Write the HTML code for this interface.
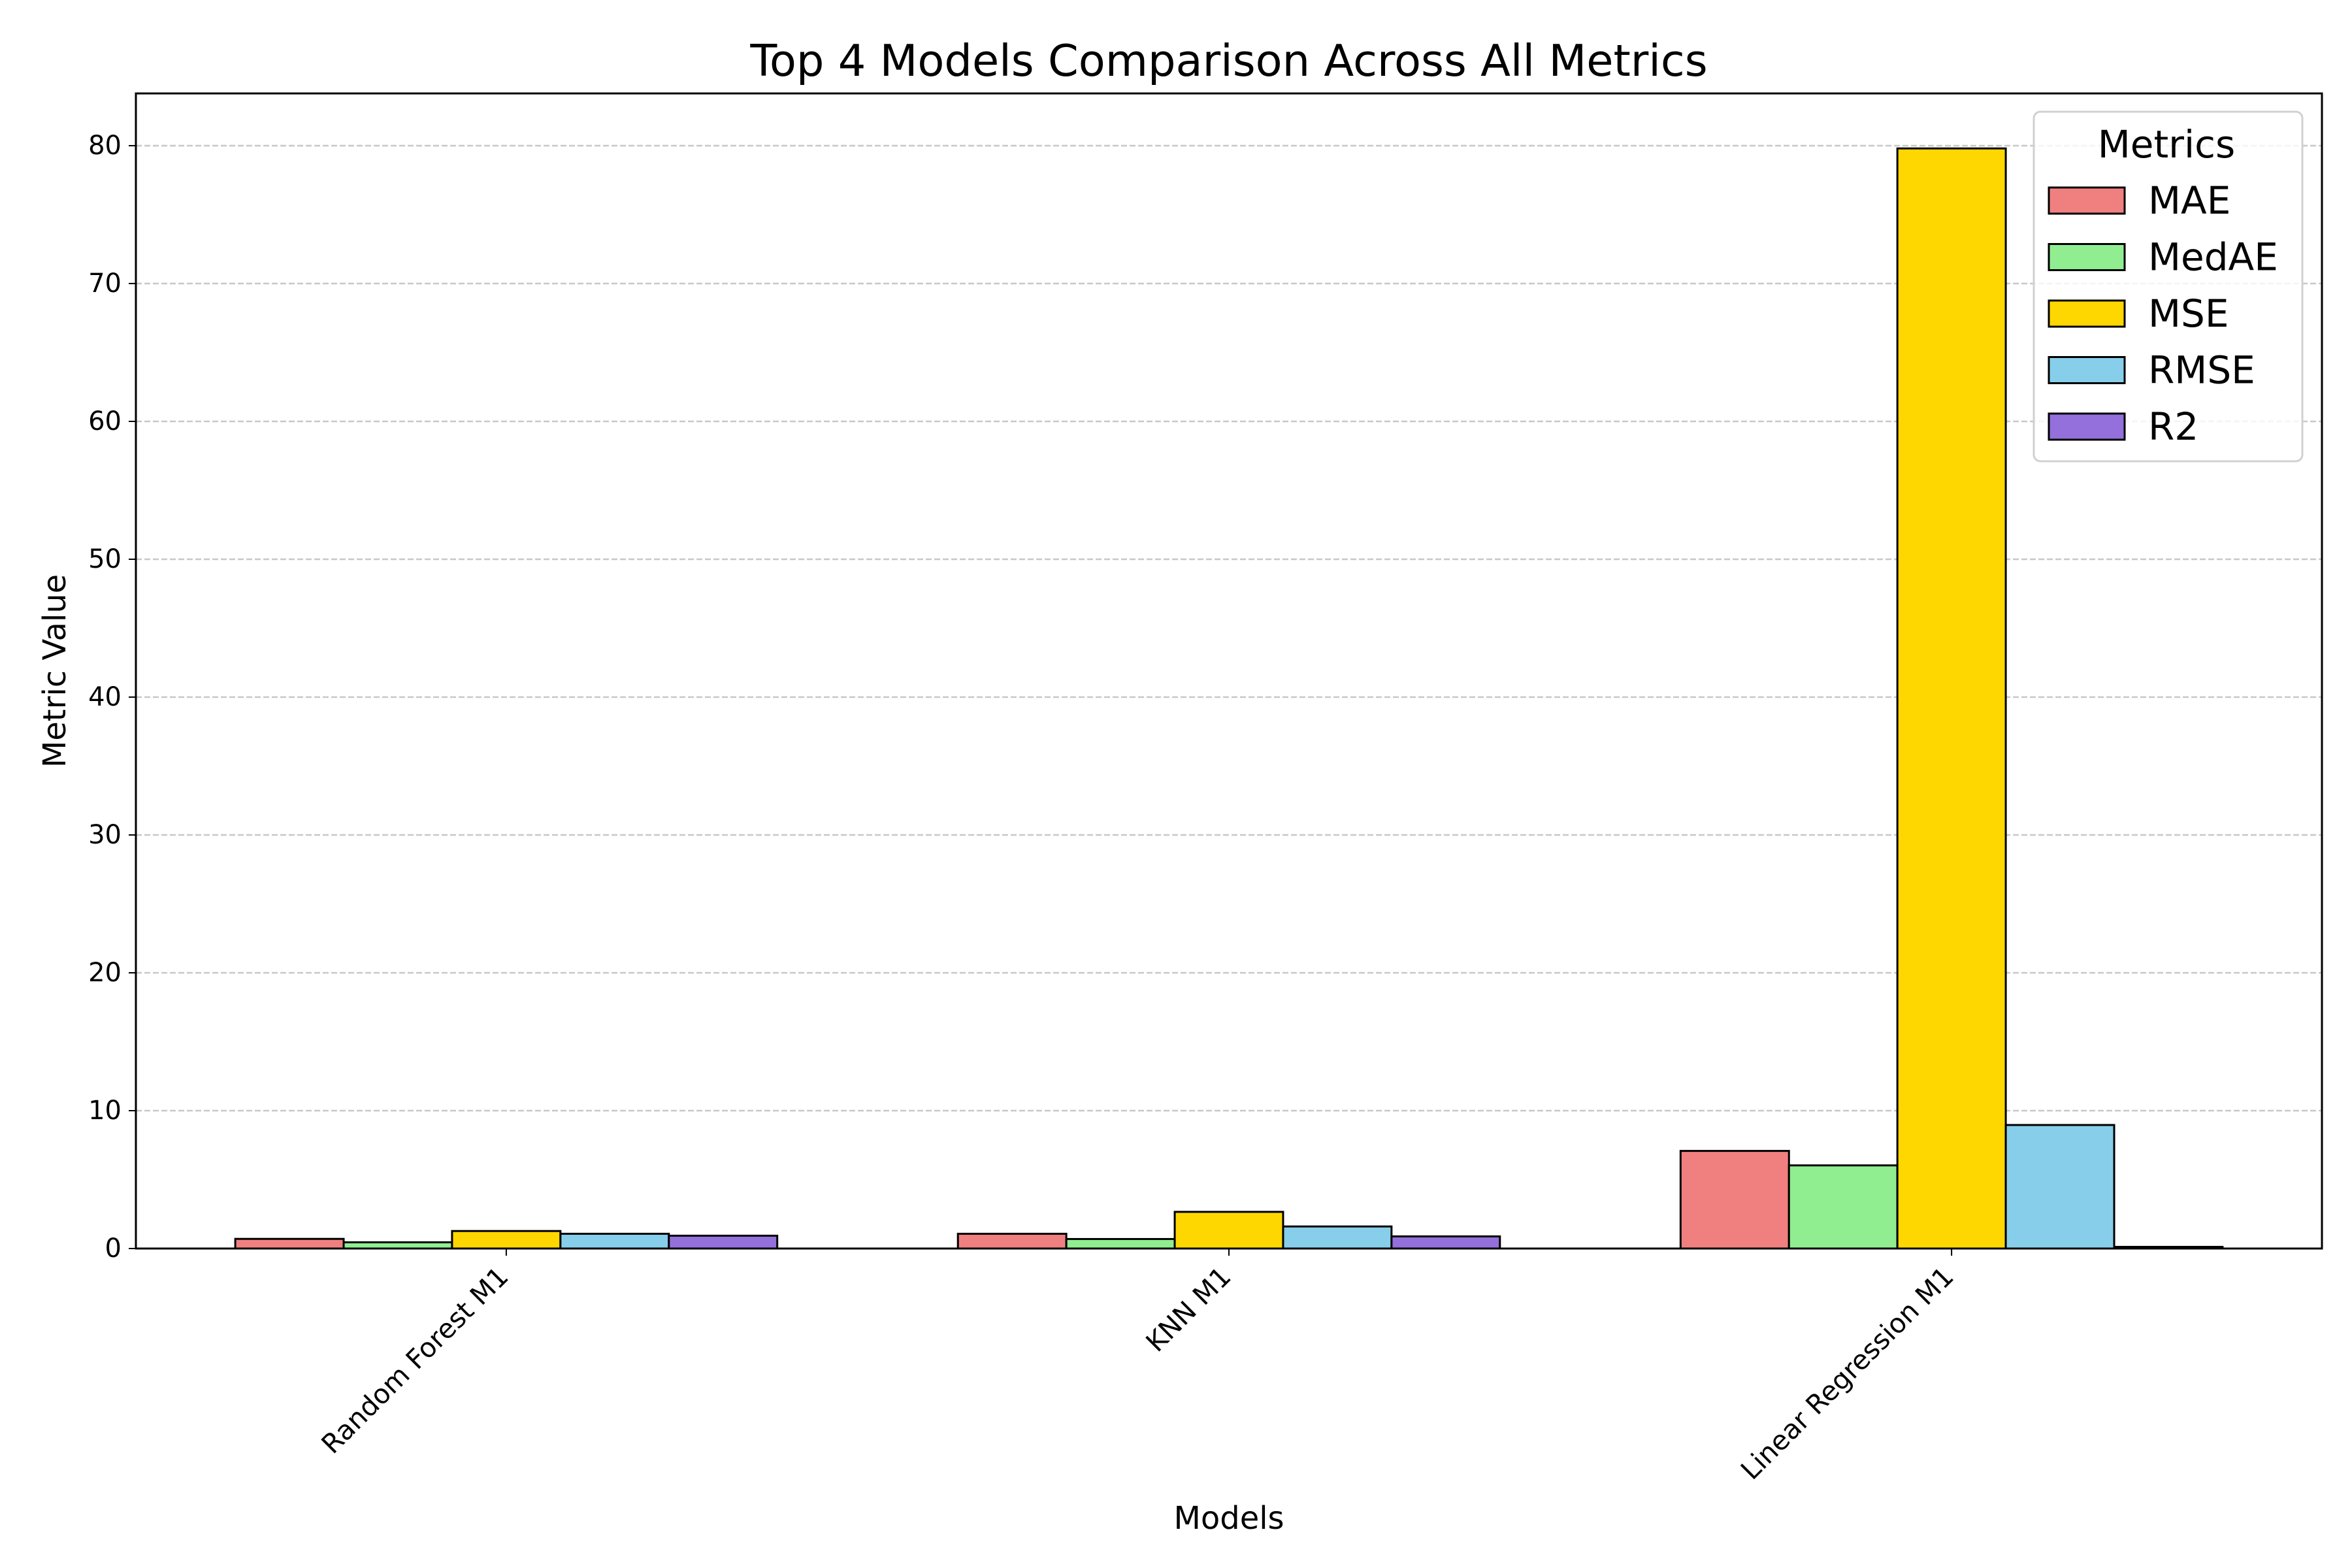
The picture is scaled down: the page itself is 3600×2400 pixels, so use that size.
<!DOCTYPE html>
<html><head><meta charset="utf-8"><style>
html,body{margin:0;padding:0;background:#fff}
svg{display:block;font-family:"DejaVu Sans","Liberation Sans",sans-serif}
</style></head><body>
<svg id="chart" width="3600" height="2400" viewBox="0 0 3600 2400" xmlns="http://www.w3.org/2000/svg">
<rect width="3600" height="2400" fill="#fff"/>
<g id="grid"></g><g id="bars"></g><g id="axes"></g><g id="legend"></g>
</svg>
<script>
const models = ["Random Forest M1", "KNN M1", "Linear Regression M1"];
const metrics = ["MAE", "MedAE", "MSE", "RMSE", "R2"];
const colors = ["#f08080", "#90ee90", "#ffd700", "#87ceeb", "#9370db"];
const maeVals = [0.7, 1.07, 7.08];
const medaeVals = [0.45, 0.69, 6.03];
const mseVals = [1.27, 2.66, 79.8];
const rmseVals = [1.07, 1.6, 8.96];
const r2Vals = [0.93, 0.88, 0.12];
const yTicks = [0, 10, 20, 30, 40, 50, 60, 70, 80];

const series = [maeVals, medaeVals, mseVals, rmseVals, r2Vals];
const L = 208, R = 3554, T = 143, B = 1911;
const barW = 0.15;
const xMin = -0.5125, xMax = 2.5125;
const yMax = 83.79;
const sx = v => L + (v - xMin) / (xMax - xMin) * (R - L);
const sy = v => B - v / yMax * (B - T);
const NS = "http://www.w3.org/2000/svg";
function mk(tag, attrs, parent, text) {
  const e = document.createElementNS(NS, tag);
  for (const k in attrs) e.setAttribute(k, attrs[k]);
  if (text !== undefined) e.textContent = text;
  parent.appendChild(e);
  return e;
}
const grid = document.getElementById('grid');
const bars = document.getElementById('bars');
const axes = document.getElementById('axes');
const legend = document.getElementById('legend');

yTicks.forEach(t => {
  const y = sy(t);
  const gl = mk('line', {x1: L, x2: R, y1: y, y2: y, stroke: '#b0b0b0', 'stroke-opacity': 0.7, 'stroke-width': 2.5, 'stroke-dasharray': '9 4'}, grid);
  
  
  const tk = mk('line', {x1: L - 11, x2: L, y1: y, y2: y, stroke: '#000', 'stroke-width': 2}, axes);
  
  
  const lb = mk('text', {x: L - 22, y: y, 'text-anchor': 'end', 'dominant-baseline': 'central', 'font-size': 40}, axes, String(t));
  
  
});

models.forEach((m, i) => {
  series.forEach((vals, j) => {
    const x0 = sx(i + (j - 2) * barW - barW / 2);
    const x1 = sx(i + (j - 2) * barW + barW / 2);
    const y = sy(vals[i]);
    const b = mk('rect', {x: x0, y: y, width: x1 - x0, height: B - y, fill: colors[j], stroke: '#000', 'stroke-width': 3}, bars);
    
    
  });
  const x = sx(i);
  const tk = mk('line', {x1: x, x2: x, y1: B, y2: B + 11, stroke: '#000', 'stroke-width': 2}, axes);
  
  
  const lb = mk('text', {x: 0, y: 0, 'text-anchor': 'end', 'dominant-baseline': 'hanging', 'font-size': 41, transform: 'translate(' + (x - 16) + ',' + (B + 24) + ') rotate(-45)'}, axes, m);
  
  
});

const frame = mk('rect', {x: L, y: T, width: R - L, height: B - T, fill: 'none', stroke: '#000', 'stroke-width': 3}, axes);


const title = mk('text', {x: (L + R) / 2, y: 116, 'text-anchor': 'middle', 'font-size': 67}, axes, 'Top 4 Models Comparison Across All Metrics');


const xt = mk('text', {x: (L + R) / 2, y: 2340, 'text-anchor': 'middle', 'font-size': 48}, axes, 'Models');


const yt = mk('text', {x: 0, y: 0, 'text-anchor': 'middle', 'font-size': 48, transform: 'translate(100,' + ((T + B) / 2) + ') rotate(-90)'}, axes, 'Metric Value');



const lbox = mk('rect', {x: 3113, y: 171, width: 411, height: 535, rx: 10, fill: '#fff', 'fill-opacity': 0.8, stroke: '#d0d0d0', 'stroke-width': 3}, legend);


const lt = mk('text', {x: 3316, y: 221, 'text-anchor': 'middle', 'dominant-baseline': 'central', 'font-size': 58}, legend, 'Metrics');


metrics.forEach((m, j) => {
  const cy = 307 + j * 86.5;
  const g = mk('g', {}, legend);
  
  
  mk('rect', {x: 3136, y: cy - 20, width: 116, height: 40, fill: colors[j], stroke: '#000', 'stroke-width': 3}, g);
  mk('text', {x: 3288, y: cy, 'dominant-baseline': 'central', 'font-size': 58}, g, m);
});
</script>
</body></html>
